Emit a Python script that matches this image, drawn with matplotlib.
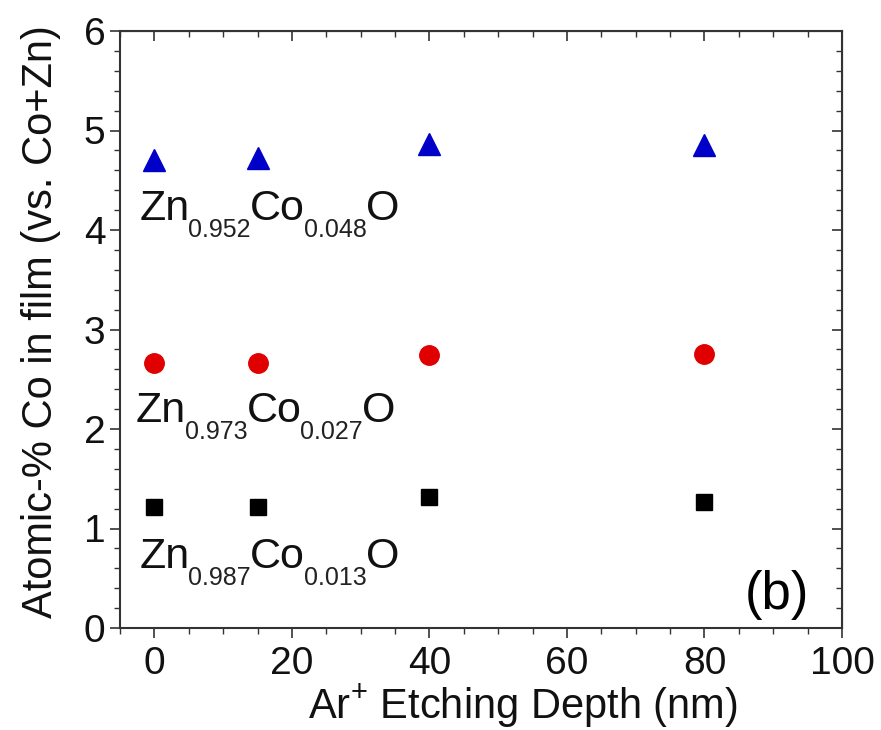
import matplotlib
matplotlib.use("Agg")
import matplotlib.pyplot as plt
from matplotlib.ticker import MultipleLocator
from matplotlib.transforms import IdentityTransform

plt.rcParams['font.family'] = ['Liberation Sans', 'DejaVu Sans']
plt.rcParams['mathtext.fontset'] = 'custom'
plt.rcParams['mathtext.rm'] = 'Liberation Sans'
plt.rcParams['mathtext.it'] = 'Liberation Sans'

depth = [0, 15, 40, 80]
co_048 = [4.70, 4.72, 4.86, 4.85]
co_027 = [2.66, 2.66, 2.74, 2.75]
co_013 = [1.22, 1.22, 1.32, 1.27]
label_parts = [
    [('Zn', False), ('0.952', True), ('Co', False), ('0.048', True), ('O', False)],
    [('Zn', False), ('0.973', True), ('Co', False), ('0.027', True), ('O', False)],
    [('Zn', False), ('0.987', True), ('Co', False), ('0.013', True), ('O', False)],
]
label_pos = [(-2.2, 4.10), (-2.7, 2.07), (-2.2, 0.60)]

fig = plt.figure(figsize=(8.81, 7.30), dpi=100)
ax = fig.add_axes([120/881, 1-628/730, (842-120)/881, (628-31)/730])

ax.plot(depth, co_048, linestyle='none', marker='^', color='#0000C8', markersize=16)
ax.plot(depth, co_027, linestyle='none', marker='o', color='#E00000', markersize=14)
ax.plot(depth, co_013, linestyle='none', marker='s', color='black', markersize=12)

ax.set_xlim(-5, 100)
ax.set_ylim(0, 6)
ax.xaxis.set_major_locator(MultipleLocator(20))
ax.xaxis.set_minor_locator(MultipleLocator(5))
ax.yaxis.set_major_locator(MultipleLocator(1))
ax.yaxis.set_minor_locator(MultipleLocator(0.2))
ax.tick_params(which='major', direction='out', length=7, width=1.2, labelsize=28,
               colors='#333333', labelcolor='#111111')
ax.tick_params(axis='x', which='major', pad=6)
ax.tick_params(which='minor', direction='out', length=4, width=1.0, colors='#333333')

for sp in ax.spines.values():
    sp.set_linewidth(1.5)
    sp.set_color('#333333')

secx = ax.secondary_xaxis('top')
secx.xaxis.set_major_locator(MultipleLocator(20))
secx.xaxis.set_minor_locator(MultipleLocator(5))
secx.tick_params(which='major', direction='in', length=7, width=1.2, labeltop=False, colors='#333333')
secx.tick_params(which='minor', direction='in', length=4, width=1.0, colors='#333333')
secy = ax.secondary_yaxis('right')
secy.yaxis.set_major_locator(MultipleLocator(1))
secy.yaxis.set_minor_locator(MultipleLocator(0.2))
secy.tick_params(which='major', direction='in', length=7, width=1.2, labelright=False, colors='#333333')
secy.tick_params(which='minor', direction='in', length=4, width=1.0, colors='#333333')

ax.set_xlabel(r'Ar$^{+}$ Etching Depth (nm)', fontsize=30, color='#111111')
ax.xaxis.label.set_va('baseline')
ax.xaxis.set_label_coords((523-120)/722, (628-719)/597)
ax.set_ylabel('Atomic-% Co in film (vs. Co+Zn)', fontsize=30, color='#111111')
ax.yaxis.label.set_va('center')
ax.yaxis.set_label_coords((41-120)/722, (628-322)/597)

ax.text(90.5, 0.33, '(b)', fontsize=38, ha='center', va='center', color='black')

fig.canvas.draw()
renderer = fig.canvas.get_renderer()
for parts, (x0, y0) in zip(label_parts, label_pos):
    px, py = ax.transData.transform((x0, y0))
    for txt, sub in parts:
        if sub:
            t = ax.text(px, py - 17, txt, fontsize=18, ha='left', va='baseline',
                        color='#222222', transform=IdentityTransform())
        else:
            t = ax.text(px, py, txt, fontsize=31, ha='left', va='baseline',
                        color='#111111', transform=IdentityTransform())
        bb = t.get_window_extent(renderer)
        px = bb.x1 - 1

fig.savefig('out.png', dpi=100)
